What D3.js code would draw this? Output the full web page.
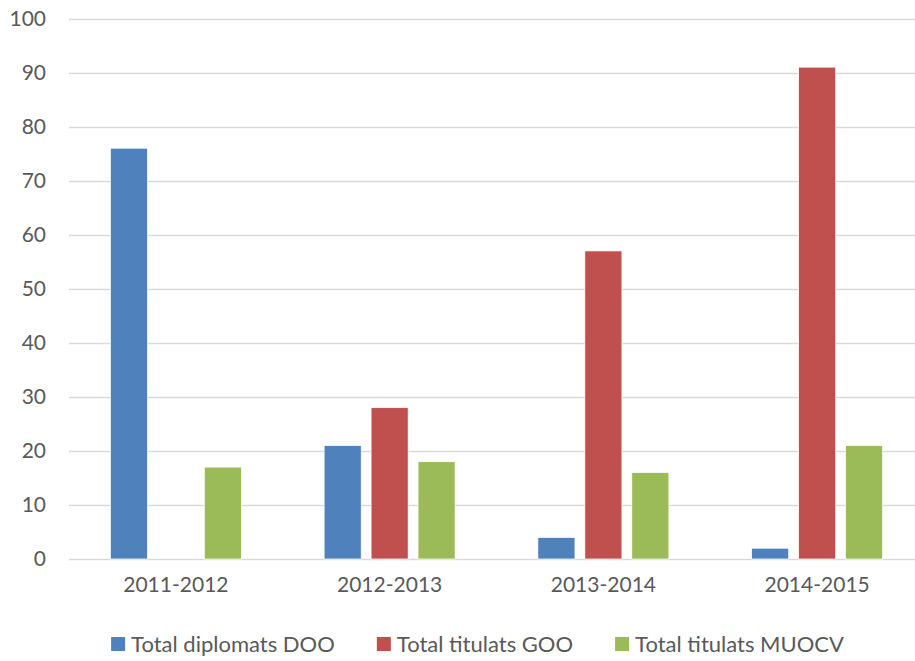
<!DOCTYPE html>
<html>
<head>
<meta charset="utf-8">
<script src="https://cdn.jsdelivr.net/npm/d3@7"></script>
<style>
	body { margin: 0; background: #fff; }
	svg { display: block; font-family: Lato, "Open Sans", sans-serif; }
</style>
</head>
<body>
<svg id="chart" width="915" height="661"></svg>
<script>
const categories = ['2011-2012', '2012-2013', '2013-2014', '2014-2015']
const seriesNames = ['Total diplomats DOO', 'Total titulats GOO', 'Total titulats MUOCV']
const diplomatsDOO = [76, 21, 4, 2]
const titulatsGOO = [0, 28, 57, 91]
const titulatsMUOCV = [17, 18, 16, 21]
const yTicks = [0, 10, 20, 30, 40, 50, 60, 70, 80, 90, 100]
const colors = ['#4F81BD', '#C0504D', '#9BBB59']

const seriesValues = [diplomatsDOO, titulatsGOO, titulatsMUOCV]
const rows = categories.map((cat, i) => ({
	cat: cat,
	values: seriesNames.map((name, s) => ({ name: name, value: seriesValues[s][i], color: colors[s] }))
}))

const svg = d3.select('#chart')
const textColor = '#595959'
const fontSize = 21
const legendFontSize = 22

const x0 = d3.scaleBand()
	.domain(categories)
	.range([69, 924])
	.paddingInner(0.387)
	.paddingOuter(0.1935)

const x1 = d3.scaleBand()
	.domain(seriesNames)
	.range([0, x0.bandwidth()])
	.paddingInner(0.21)

const y = d3.scaleLinear()
	.domain([0, 100])
	.range([559, 18.5])

// gridlines
svg.append('g')
	.selectAll('line')
	.data(yTicks)
	.enter().append('line')
		.attr('x1', 69)
		.attr('x2', 924)
		.attr('y1', (d) => Math.round(y(d)) + 0.5)
		.attr('y2', (d) => Math.round(y(d)) + 0.5)
		.attr('stroke', '#D9D9D9')
		.attr('stroke-width', 1.5)

// y axis labels
const yAxis = svg.append('g')
	.attr('transform', 'translate(69,0)')
	.call(d3.axisLeft(y).tickValues(yTicks).tickSize(0).tickPadding(23))
yAxis.select('.domain').remove()
yAxis.selectAll('text')
	.attr('fill', textColor)
	.attr('font-size', fontSize)
	.attr('font-family', 'Lato, sans-serif')

// bars
const groups = svg.append('g')
	.selectAll('g')
	.data(rows)
	.enter().append('g')
		.attr('transform', (d) => 'translate(' + x0(d.cat) + ',0)')

groups.selectAll('rect')
	.data((d) => d.values.filter((v) => v.value > 0))
	.enter().append('rect')
		.attr('x', (d) => x1(d.name))
		.attr('y', (d) => y(d.value))
		.attr('width', x1.bandwidth())
		.attr('height', (d) => y(0) - y(d.value))
		.attr('fill', (d) => d.color)
		.attr('stroke', '#fff')
		.attr('stroke-width', 0.75)

// x axis labels
const xAxis = svg.append('g')
	.attr('transform', 'translate(0,559)')
	.call(d3.axisBottom(x0).tickSize(0).tickPadding(18))
xAxis.select('.domain').remove()
xAxis.selectAll('text')
	.attr('fill', textColor)
	.attr('font-size', fontSize)
	.attr('font-family', 'Lato, sans-serif')

// legend
const legend = svg.append('g')
const items = legend.selectAll('g')
	.data(seriesNames)
	.enter().append('g')

items.append('rect')
	.attr('width', 14)
	.attr('height', 14)
	.attr('y', 637)
	.attr('fill', (d, i) => colors[i])

items.append('text')
	.text((d) => d)
	.attr('x', 20)
	.attr('y', 644)
	.attr('dy', '0.35em')
	.attr('fill', textColor)
	.attr('font-size', legendFontSize)

let offset = 0
const widths = []
items.each(function () {
	const w = 20 + d3.select(this).select('text').node().getComputedTextLength()
	widths.push(w)
})
const gap = 42
const total = d3.sum(widths) + gap * (widths.length - 1)
offset = 477.5 - total / 2
items.attr('transform', (d, i) => {
	const pos = offset
	offset += widths[i] + gap
	return 'translate(' + pos + ',0)'
})
</script>
</body>
</html>
